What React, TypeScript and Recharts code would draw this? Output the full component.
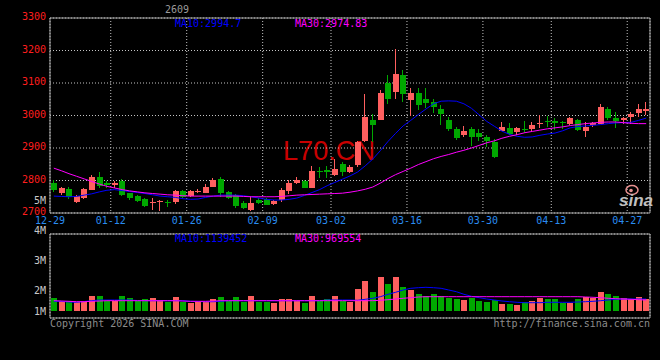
import React from 'react'
import { ComposedChart, Bar, Line, XAxis, YAxis, CartesianGrid, ReferenceArea } from 'recharts'

// trading days shown on the chart
const dates = [
  '12-29', '12-30', '12-31', '01-05', '01-06', '01-07', '01-08', '01-09',
  '01-12', '01-13', '01-14', '01-15', '01-16', '01-19', '01-20', '01-21', '01-22', '01-23',
  '01-26', '01-27', '01-28', '01-29', '01-30', '02-02', '02-03', '02-04', '02-05', '02-06',
  '02-09', '02-10', '02-11', '02-12', '02-13', '02-24', '02-25', '02-26', '02-27',
  '03-02', '03-03', '03-04', '03-05', '03-06', '03-09', '03-10', '03-11', '03-12', '03-13',
  '03-16', '03-17', '03-18', '03-19', '03-20', '03-23', '03-24', '03-25', '03-26', '03-27',
  '03-30', '03-31', '04-01', '04-02', '04-03', '04-07', '04-08', '04-09', '04-10',
  '04-13', '04-14', '04-15', '04-16', '04-17', '04-20', '04-21', '04-22', '04-23', '04-24',
  '04-27', '04-28', '04-29',
]

const opens = [
  2793, 2763, 2774, 2734, 2747, 2773, 2810, 2792, 2785, 2800,
  2760, 2753, 2743, 2730, 2732, 2734, 2733, 2768, 2755, 2764,
  2764, 2781, 2805, 2764, 2755, 2732, 2709, 2740, 2743, 2728,
  2740, 2766, 2793, 2800, 2779, 2830, 2832, 2817, 2851, 2827,
  2846, 2922, 2986, 2988, 3099, 3073, 3125, 3050, 3070, 3051,
  3041, 3020, 2986, 2957, 2940, 2960, 2947, 2933, 2919, 2955,
  2963, 2950, 2958, 2958, 2974, 2983, 2983, 2979, 2976, 2986,
  2953, 2971, 2976, 3020, 2993, 2986, 2995, 3009, 3015,
]
const highs = [
  2801, 2779, 2780, 2755, 2777, 2817, 2826, 2800, 2799, 2804,
  2763, 2755, 2746, 2746, 2741, 2740, 2771, 2772, 2772, 2773,
  2788, 2807, 2810, 2768, 2759, 2738, 2750, 2747, 2745, 2740,
  2778, 2802, 2810, 2802, 2845, 2843, 2845, 2865, 2858, 2848,
  2922, 3066, 3005, 3079, 3125, 3205, 3140, 3084, 3084, 3084,
  3052, 3033, 2996, 2964, 2968, 2964, 2957, 2940, 2927, 2979,
  2978, 2966, 2983, 2981, 3002, 2999, 2991, 2983, 2996, 2988,
  2979, 2981, 3035, 3027, 3012, 2996, 3012, 3035, 3041,
]
const lows = [
  2764, 2755, 2744, 2731, 2744, 2771, 2776, 2780, 2776, 2752,
  2740, 2735, 2718, 2708, 2707, 2717, 2728, 2748, 2752, 2760,
  2760, 2779, 2750, 2742, 2717, 2712, 2707, 2728, 2722, 2725,
  2735, 2760, 2788, 2776, 2776, 2810, 2807, 2814, 2814, 2822,
  2843, 2919, 2920, 2986, 3035, 3051, 3040, 2999, 3017, 3024,
  3008, 2971, 2953, 2925, 2933, 2906, 2920, 2902, 2868, 2950,
  2942, 2940, 2945, 2950, 2961, 2966, 2955, 2957, 2971, 2950,
  2932, 2965, 2973, 2986, 2964, 2975, 2976, 2996, 3002,
]
const closes = [
  2771, 2777, 2748, 2752, 2774, 2812, 2781, 2787, 2791, 2756,
  2746, 2738, 2722, 2734, 2736, 2731, 2768, 2751, 2769, 2768,
  2781, 2802, 2763, 2746, 2722, 2717, 2732, 2732, 2725, 2737,
  2771, 2791, 2801, 2779, 2830, 2826, 2826, 2836, 2827, 2843,
  2918, 2996, 2971, 3070, 3050, 3128, 3068, 3070, 3032, 3038,
  3027, 3005, 2957, 2928, 2953, 2935, 2935, 2920, 2873, 2966,
  2945, 2963, 2955, 2971, 2977, 2979, 2976, 2976, 2993, 2955,
  2966, 2978, 3027, 2993, 2983, 2992, 3005, 3020, 3020,
]
const ma10 = [
  2752, 2751, 2750, 2751, 2755, 2759, 2765, 2770, 2772, 2769,
  2766, 2763, 2760, 2756, 2752, 2750, 2748, 2744, 2742, 2743,
  2748, 2752, 2755, 2755, 2755, 2753, 2750, 2746, 2742, 2740,
  2740, 2742, 2746, 2754, 2763, 2772, 2784, 2794, 2804, 2814,
  2826, 2845, 2866, 2892, 2920, 2945, 2968, 2985, 3003, 3020,
  3036, 3044, 3045, 3044, 3036, 3022, 3002, 2982, 2967, 2952,
  2942, 2936, 2933, 2934, 2939, 2943, 2946, 2953, 2962, 2966,
  2968, 2970, 2972, 2975, 2977, 2978, 2979, 2985, 2992,
]
const ma30 = [
  2838, 2830, 2821, 2813, 2805, 2797, 2789, 2782, 2777, 2772,
  2768, 2765, 2762, 2760, 2758, 2756, 2755, 2753, 2752, 2752,
  2752, 2752, 2752, 2752, 2752, 2751, 2750, 2750, 2750, 2750,
  2751, 2753, 2755, 2756, 2757, 2758, 2759, 2760, 2761, 2764,
  2768, 2773, 2780, 2792, 2806, 2818, 2828, 2838, 2849, 2858,
  2867, 2874, 2880, 2887, 2893, 2900, 2908, 2916, 2922, 2930,
  2936, 2941, 2947, 2951, 2955, 2959, 2962, 2965, 2969, 2972,
  2975, 2977, 2979, 2980, 2980, 2978, 2976, 2975, 2975,
]
const volumes = [
  1064000, 824000, 824000, 744000, 824000, 1224000, 1224000, 824000, 824000, 1176000,
  1064000, 824000, 936000, 1016000, 880000, 696000, 1096000, 696000, 616000, 696000,
  696000, 936000, 1096000, 824000, 1096000, 744000, 1200000, 744000, 744000, 616000,
  936000, 936000, 824000, 664000, 1224000, 824000, 936000, 1224000, 824000, 744000,
  1760000, 2400000, 1496000, 2696000, 2160000, 2696000, 1944000, 1680000, 1336000, 1224000,
  1336000, 1224000, 1064000, 936000, 880000, 1016000, 800000, 744000, 880000, 560000,
  560000, 480000, 744000, 824000, 1016000, 936000, 936000, 616000, 664000, 936000,
  1144000, 1016000, 1544000, 1336000, 1224000, 1016000, 960000, 1144000, 960000,
]
const volMa10 = [
  776000, 776000, 720000, 696000, 760000, 824000, 880000, 880000, 880000, 880000,
  880000, 840000, 824000, 824000, 824000, 824000, 824000, 824000, 776000, 760000,
  744000, 744000, 776000, 824000, 824000, 824000, 824000, 824000, 824000, 824000,
  824000, 824000, 824000, 824000, 824000, 824000, 880000, 880000, 880000, 880000,
  856000, 936000, 1016000, 1144000, 1336000, 1496000, 1680000, 1816000, 1864000, 1896000,
  1864000, 1816000, 1680000, 1544000, 1336000, 1176000, 1064000, 960000, 880000, 800000,
  744000, 696000, 664000, 664000, 664000, 696000, 696000, 696000, 696000, 720000,
  744000, 776000, 824000, 880000, 936000, 960000, 960000, 960000, 960000,
]
const volMa30 = [
  824000, 800000, 776000, 744000, 744000, 776000, 800000, 824000, 824000, 824000,
  824000, 824000, 824000, 824000, 824000, 824000, 824000, 800000, 776000, 776000,
  776000, 800000, 824000, 824000, 824000, 824000, 824000, 824000, 824000, 824000,
  824000, 824000, 824000, 824000, 824000, 824000, 824000, 824000, 824000, 824000,
  824000, 824000, 824000, 856000, 904000, 960000, 1016000, 1064000, 1120000, 1144000,
  1144000, 1144000, 1144000, 1144000, 1144000, 1144000, 1144000, 1144000, 1144000, 1144000,
  1144000, 1144000, 1144000, 1144000, 1144000, 1144000, 1144000, 1144000, 1144000, 1144000,
  1120000, 1096000, 1064000, 1016000, 984000, 960000, 936000, 904000, 880000,
]

const dateTicks = [0, 8, 18, 28, 37, 47, 57, 66, 76]
const priceTicks = [2700, 2800, 2900, 3000, 3100, 3200, 3300]
const volLabelTicks = [1000000, 2000000, 3000000, 4000000, 5000000]
const volGridTicks = [-560000, 1120000, 2800000, 4480000, 6160000]

const UP = '#ff5f5f'
const DOWN = '#00a800'
const GRID = '#c4c4c4'
const FRAME = '#a8a8a8'
const MONO = '"DejaVu Sans Mono", monospace'

const rows = dates.map((date, i) => ({
  pos: i + 0.5,
  date,
  open: opens[i],
  high: highs[i],
  low: lows[i],
  close: closes[i],
  range: [lows[i], highs[i]],
  up: closes[i] >= opens[i],
  vol: volumes[i],
  ma10: ma10[i],
  ma30: ma30[i],
  vma10: volMa10[i],
  vma30: volMa30[i],
}))

function Candle(props: any) {
  const { x, y, width, height, payload } = props
  if (!payload || height == null) return null
  const k = height / (payload.high - payload.low)
  const yo = y + (payload.high - payload.open) * k
  const yc = y + (payload.high - payload.close) * k
  const color = payload.up ? UP : DOWN
  const bx = Math.round(x)
  return (
    <g shapeRendering="crispEdges">
      <rect x={bx + 2} y={Math.round(y)} width={1} height={Math.max(1, Math.round(height))} fill={color} />
      <rect x={bx} y={Math.round(Math.min(yo, yc))} width={width} height={Math.max(1, Math.round(Math.abs(yc - yo)))} fill={color} />
    </g>
  )
}

function VolBar(props: any) {
  const { x, y, width, height, payload } = props
  if (!payload) return null
  return <rect x={Math.round(x)} y={Math.round(y)} width={width} height={Math.round(height)} fill={payload.up ? UP : DOWN} shapeRendering="crispEdges" />
}

const PriceTick = ({ x, y, payload }: any) => (
  <text x={x - 4} y={y + 2} textAnchor="end" fill="#ff1e1e" fontSize={10} fontFamily={MONO}>{payload.value}</text>
)

const DateTick = ({ x, y, payload }: any) => (
  <text x={x} y={y + 11} textAnchor="middle" fill="#2a8cf0" fontSize={10} fontFamily={MONO}>{dates[payload.value]}</text>
)

// sina keeps the lowest volume label inside the panel
const VolTick = ({ x, y, payload }: any) => (
  <text x={x - 4} y={Math.min(y, 121) + 4} textAnchor="end" fill="#c8c8c8" fontSize={10} fontFamily={MONO}>{payload.value / 1000000}M</text>
)

const txt = { fontSize: 10, fontFamily: MONO }

export default function App() {
  return (
    <div style={{ position: 'fixed', left: 0, top: 0, width: 660, height: 360, background: '#000', overflow: 'hidden' }}>
      <svg width={660} height={360} style={{ position: 'absolute', left: 0, top: 0 }}>
        <text x={283} y={160} fill="#c80000" fontSize={28} fontFamily="'Liberation Sans', Arial" textLength={92} lengthAdjust="spacingAndGlyphs">L70.CN</text>
      </svg>

      <div style={{ position: 'absolute', left: 0, top: 0 }}>
        <ComposedChart width={660} height={232} data={rows} margin={{ top: 18, right: 10, bottom: 4, left: 0 }}>
          <CartesianGrid stroke={GRID} strokeDasharray="1 2" />
          <XAxis type="number" dataKey="pos" domain={[0, 79]} allowDataOverflow ticks={dateTicks} interval={0}
            tickLine={false} axisLine={false} tickSize={0} tickMargin={0} height={15} tick={<DateTick />} />
          <YAxis domain={[2700, 3300]} allowDataOverflow ticks={priceTicks} interval={0} width={50}
            tickLine={false} axisLine={false} tickSize={0} tickMargin={0} tick={<PriceTick />} />
          <ReferenceArea x1={0} x2={79} y1={2700} y2={3300} fill="none" stroke={FRAME} ifOverflow="visible" />
          <Bar dataKey="range" barSize={6} shape={<Candle />} isAnimationActive={false} />
          <Line dataKey="ma10" stroke="#0000ff" strokeWidth={1} dot={false} activeDot={false} isAnimationActive={false} />
          <Line dataKey="ma30" stroke="#ff00ff" strokeWidth={1} dot={false} activeDot={false} isAnimationActive={false} />
        </ComposedChart>
      </div>

      <div style={{ position: 'absolute', left: 0, top: 190 }}>
        <ComposedChart width={660} height={140} data={rows} margin={{ top: 44, right: 10, bottom: 12, left: 0 }}>
          <CartesianGrid yAxisId="vol" stroke={GRID} strokeDasharray="1 2" />
          <XAxis type="number" dataKey="pos" domain={[0, 79]} allowDataOverflow ticks={dateTicks} interval={0}
            height={0} tick={false} tickLine={false} axisLine={false} />
          <YAxis yAxisId="lab" domain={[1066667, 3866667]} allowDataOverflow ticks={volLabelTicks} interval={0} width={50}
            tickLine={false} axisLine={false} tickSize={0} tickMargin={0} tick={<VolTick />} />
          <YAxis yAxisId="vol" domain={[-560000, 6160000]} allowDataOverflow ticks={volGridTicks} interval={0} width={0}
            tick={false} tickLine={false} axisLine={false} />
          <ReferenceArea yAxisId="vol" x1={0} x2={79} y1={-560000} y2={6160000} fill="none" stroke={FRAME} ifOverflow="visible" />
          <Bar yAxisId="vol" dataKey="vol" barSize={6} shape={<VolBar />} isAnimationActive={false} />
          <Line yAxisId="vol" dataKey="vma10" stroke="#0000ff" strokeWidth={1} dot={false} activeDot={false} isAnimationActive={false} />
          <Line yAxisId="vol" dataKey="vma30" stroke="#ff00ff" strokeWidth={1} dot={false} activeDot={false} isAnimationActive={false} />
        </ComposedChart>
      </div>

      <svg width={660} height={360} style={{ position: 'absolute', left: 0, top: 0, pointerEvents: 'none' }}>
        <text x={165} y={13} fill="#9a9a9a" {...txt}>2609</text>
        <text x={175} y={27} fill="#0000ff" {...txt}>MA10:2994.7</text>
        <text x={295} y={27} fill="#ff00ff" {...txt}>MA30:2974.83</text>
        <text x={175} y={242} fill="#0000ff" {...txt}>MA10:1139452</text>
        <text x={295} y={242} fill="#ff00ff" {...txt}>MA30:969554</text>
        <text x={50} y={327} fill="#8c8c8c" {...txt}>Copyright 2026 SINA.COM</text>
        <text x={650} y={327} fill="#8c8c8c" textAnchor="end" {...txt}>http://finance.sina.com.cn</text>
        <ellipse cx={632} cy={190} rx={6} ry={4.5} fill="none" stroke="#e89090" strokeWidth={1.5} />
        <circle cx={631} cy={190.5} r={1.8} fill="#e89090" />
        <text x={619} y={206} fill="#c0c0c0" fontSize={17} fontStyle="italic" fontWeight="bold" fontFamily="'Liberation Sans', Arial">sina</text>
      </svg>
    </div>
  )
}
